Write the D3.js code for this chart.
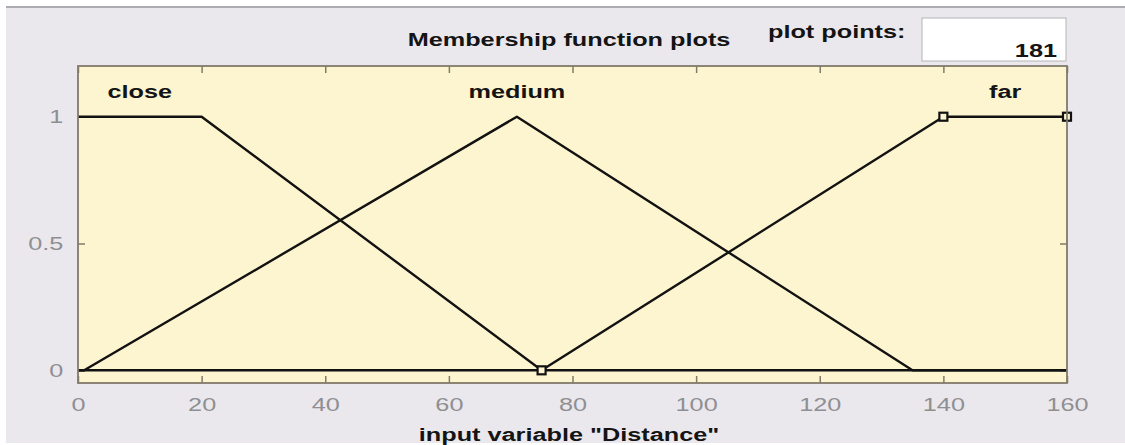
<!DOCTYPE html>
<html>
<head>
<meta charset="utf-8">
<script src="https://cdn.jsdelivr.net/npm/d3@7"></script>
<style>
  html, body { margin: 0; padding: 0; background: #ffffff; }
  svg { display: block; }
  text { font-family: "Liberation Sans", Arial, Helvetica, sans-serif; }
</style>
</head>
<body>
<svg id="chart" width="1125" height="445"></svg>
<script>
// Membership functions of the input variable "Distance"
const mfNames = ["close", "medium", "far"];
const closeX = [0, 20, 75, 160];
const closeY = [1, 1, 0, 0];
const mediumX = [0, 1, 71, 135, 160];
const mediumY = [0, 0, 1, 0, 0];
const farX = [0, 75, 140, 160];
const farY = [0, 0, 1, 1];
// vertices of the selected function (far) that carry handles
const farHandleX = [75, 140, 160];
const farHandleY = [0, 1, 1];
// label anchor = centre of each function's plateau
const labelX = [10, 71, 150];

const xTicks = [0, 20, 40, 60, 80, 100, 120, 140, 160];
const yTicks = [0, 0.5, 1];
const xDomain = [0, 160];
const yDomain = [-0.05, 1.2];
const plotPoints = 181;
const variableName = "Distance";

const W = 1125, H = 445;
const SX = 1.33; // horizontal text stretch of the panel font
const FS = 19;
const plot = { left: 78, right: 1067, top: 66, bottom: 383 };

const svg = d3.select("#chart");

// window background and frame
svg.append("rect").attr("x", 0).attr("y", 0).attr("width", W).attr("height", H).attr("fill", "#ffffff");
svg.append("rect").attr("x", 6).attr("y", 7).attr("width", W - 6).attr("height", 436).attr("fill", "#eae8ed");
svg.append("line").attr("x1", 6).attr("x2", W).attr("y1", 7).attr("y2", 7)
  .attr("stroke", "#aeacb3").attr("stroke-width", 2);

function stretchedText(g, x, y, str, opts) {
  return g.append("text")
    .attr("transform", `translate(${x},${y}) scale(${SX},1)`)
    .attr("text-anchor", opts.anchor || "start")
    .attr("font-size", opts.size || FS)
    .attr("font-weight", opts.weight || "bold")
    .attr("fill", opts.fill || "#141414")
    .text(str);
}

// header
stretchedText(svg, 569, 46, "Membership function plots", { anchor: "middle" });
stretchedText(svg, 768, 38, "plot points:", {});
svg.append("rect").attr("x", 922).attr("y", 18).attr("width", 144).attr("height", 43)
  .attr("fill", "#ffffff").attr("stroke", "#b4b3b8").attr("stroke-width", 1);
stretchedText(svg, 1057, 57, String(plotPoints), { anchor: "end" });

// scales
const x = d3.scaleLinear().domain(xDomain).range([plot.left, plot.right]);
const y = d3.scaleLinear().domain(yDomain).range([plot.bottom, plot.top]);

// plot area
svg.append("rect")
  .attr("x", plot.left).attr("y", plot.top)
  .attr("width", plot.right - plot.left).attr("height", plot.bottom - plot.top)
  .attr("fill", "#fdf5cf");

const tickColor = "#827b6a";
const tickLen = 7;

// axes (ticks drawn inward on all four sides)
const axB = svg.append("g").attr("transform", `translate(0,${plot.bottom})`)
  .call(d3.axisBottom(x).tickValues(xTicks).tickSize(-tickLen).tickFormat(d3.format("d")));
const axT = svg.append("g").attr("transform", `translate(0,${plot.top})`)
  .call(d3.axisTop(x).tickValues(xTicks).tickSize(-tickLen).tickFormat(""));
const axL = svg.append("g").attr("transform", `translate(${plot.left},0)`)
  .call(d3.axisLeft(y).tickValues(yTicks).tickSize(-tickLen).tickFormat(d => String(d)));
const axR = svg.append("g").attr("transform", `translate(${plot.right},0)`)
  .call(d3.axisRight(y).tickValues(yTicks).tickSize(-tickLen).tickFormat(""));

[axB, axT, axL, axR].forEach(a => {
  a.select(".domain").remove();
  a.selectAll(".tick line").attr("stroke", tickColor).attr("stroke-width", 1.5);
});
axB.selectAll(".tick text")
  .attr("font-size", FS).attr("fill", "#8f8f92").attr("font-family", "Liberation Sans, Arial, sans-serif")
  .attr("transform", `scale(${SX},1)`).attr("dy", "0.71em").attr("y", 15);
axL.selectAll(".tick text")
  .attr("font-size", FS).attr("fill", "#8f8f92").attr("font-family", "Liberation Sans, Arial, sans-serif")
  .attr("x", -11).attr("transform", `scale(${SX},1)`);

// membership function curves
const line = d3.line().x(d => x(d[0])).y(d => y(d[1]));
const curves = [
  d3.zip(closeX, closeY),
  d3.zip(mediumX, mediumY),
  d3.zip(farX, farY)
];
svg.append("g").selectAll("path").data(curves).join("path")
  .attr("d", line)
  .attr("fill", "none")
  .attr("stroke", "#121212")
  .attr("stroke-width", 2.4)
  .attr("stroke-linejoin", "round");

// handles on the selected function
svg.append("g").selectAll("rect").data(d3.zip(farHandleX, farHandleY)).join("rect")
  .attr("x", d => x(d[0]) - 4).attr("y", d => y(d[1]) - 4)
  .attr("width", 8).attr("height", 8)
  .attr("fill", "#fdf5cf").attr("stroke", "#121212").attr("stroke-width", 2.2);

// function names
mfNames.forEach((n, i) => {
  stretchedText(svg, x(labelX[i]), y(1) - 19, n, { anchor: "middle" });
});

// axes box
svg.append("rect")
  .attr("x", plot.left).attr("y", plot.top)
  .attr("width", plot.right - plot.left).attr("height", plot.bottom - plot.top)
  .attr("fill", "none").attr("stroke", tickColor).attr("stroke-width", 1.8);

// x label
stretchedText(svg, 569, 441, `input variable "${variableName}"`, { anchor: "middle" });
</script>
</body>
</html>
